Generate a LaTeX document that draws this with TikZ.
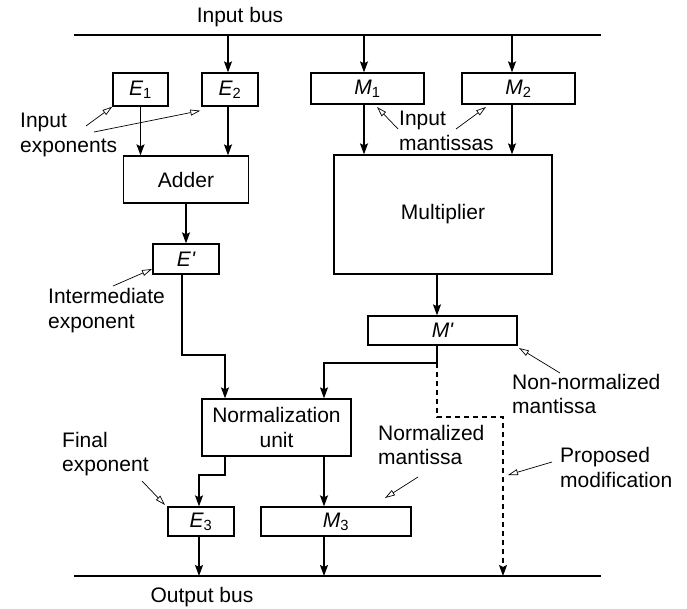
\documentclass[tikz,border=0pt]{standalone}
\usepackage{fontspec}
\setmainfont{Liberation Sans}
\usetikzlibrary{arrows.meta,calc}
\begin{document}
\begin{tikzpicture}[x=1pt,y=-1pt,
  every node/.style={font=\fontsize{21}{24.5}\selectfont},
  box/.style={draw,line width=1.3pt,inner sep=0pt},
  lbl/.style={align=left,inner sep=0pt,anchor=west},
  bus/.style={line width=1.5pt},
  arr/.style={line width=1.3pt,-{Stealth[length=11pt,width=8pt,inset=2pt]}},
  ann/.style={line width=0.7pt,-{Triangle[open,length=10pt,width=6pt,line width=0.7pt]}},
  dsh/.style={dash pattern=on 5pt off 4pt}]
\useasboundingbox (0,0) rectangle (687,608);

% buses
\coordinate (ibL) at (74,35); \coordinate (ibR) at (601,35);
\coordinate (obL) at (74,576); \coordinate (obR) at (601,576);
\draw[bus] (ibL) -- (ibR);
\draw[bus] (obL) -- (obR);
\node (ibus) at (240,17) {Input bus};
\node (obus) at (202,597) {Output bus};

% boxes
\node[box,minimum width=55,minimum height=33] (E1) at (140.5,89.5) {\itshape E\textsubscript{\upshape 1}};
\node[box,minimum width=56,minimum height=33] (E2) at (230,89.5) {\itshape E\textsubscript{\upshape 2}};
\node[box,minimum width=113,minimum height=31] (M1) at (367.5,88.5) {\itshape M\textsubscript{\upshape 1}};
\node[box,minimum width=113,minimum height=31] (M2) at (518.5,88.5) {\itshape M\textsubscript{\upshape 2}};
\node[box,minimum width=125,minimum height=47] (Adder) at (186,179.5) {Adder};
\node[box,minimum width=218,minimum height=119] (Mult) at (443,214.5) {Multiplier};
\node[box,minimum width=66,minimum height=30] (Ep) at (186,259) {\itshape E\textquotesingle};
\node[box,minimum width=149,minimum height=29] (Mp) at (442.5,330.5) {\itshape M\textquotesingle};
\node[box,minimum width=149,minimum height=57,align=center] (Norm) at (276.5,427.5) {Normalization\\unit};
\node[box,minimum width=66,minimum height=29] (E3) at (201,521.5) {\itshape E\textsubscript{\upshape 3}};
\node[box,minimum width=150,minimum height=29] (M3) at (336,521.5) {\itshape M\textsubscript{\upshape 3}};

% taps and bends
\coordinate (t2) at (228,35); \coordinate (t3) at (364,35); \coordinate (t4) at (512,35);
\coordinate (mt) at (437,300);
\coordinate (k1) at (182,355); \coordinate (k2) at (225,355);
\coordinate (j1) at (437,363); \coordinate (j2) at (324,363);
\coordinate (d1) at (437,417); \coordinate (d2) at (503,417);
\coordinate (n1) at (225,475); \coordinate (n2) at (199,475);

\draw[arr] (t2) -- (t2 |- E2.north);
\draw[arr] (t3) -- (t3 |- M1.north);
\draw[arr] (t4) -- (t4 |- M2.north);
\draw[arr] (E1.south) -- (E1.south |- Adder.north);
\draw[arr] (t2 |- E2.south) -- (t2 |- Adder.north);
\draw[arr] (t3 |- M1.south) -- (t3 |- Mult.north);
\draw[arr] (t4 |- M2.south) -- (t4 |- Mult.north);
\draw[arr] (Adder.south) -- (Ep.north);
\draw[arr] (mt |- Mult.south) -- (mt |- Mp.north);
\draw[arr] (k1 |- Ep.south) -- (k1) -- (k2) -- (k2 |- Norm.north);
\draw[arr] (j1 |- Mp.south) -- (j1) -- (j2) -- (j2 |- Norm.north);
\draw[arr,dsh] (j1) -- (d1) -- (d2) -- (d2 |- obL);
\draw[arr] (n1 |- Norm.south) -- (n1) -- (n2) -- (n2 |- E3.north);
\draw[arr] (j2 |- Norm.south) -- (j2 |- M3.north);
\draw[arr] (n2 |- E3.south) -- (n2 |- obL);
\draw[arr] (j2 |- M3.south) -- (j2 |- obL);

% labels
\node[lbl] (lie) at (20,135) {Input\\exponents};
\node[lbl] (lim) at (399,131) {Input\\mantissas};
\node[lbl] (lix) at (48,310.5) {Intermediate\\exponent};
\node[lbl] (lnn) at (512,394) {Non-normalized\\mantissa};
\node[lbl] (lfe) at (62,454) {Final\\exponent};
\node[lbl] (lnm) at (378,445) {Normalized\\mantissa};
\node[lbl] (lpm) at (560,467.5) {Proposed\\modification};

% annotation arrows
\coordinate (a1) at (86,126); \coordinate (a2) at (94,132);
\coordinate (a3) at (398,129); \coordinate (a3e) at (377,107);
\coordinate (a4) at (456,129); \coordinate (a4e) at (486,107);
\coordinate (a5) at (113,286); \coordinate (a5e) at (152,269);
\coordinate (a6) at (560,373); \coordinate (a6e) at (519,348);
\coordinate (a7) at (142,481); \coordinate (a7e) at (165,505);
\coordinate (a8) at (418,477); \coordinate (a8e) at (385,498);
\coordinate (a9) at (552,462); \coordinate (a9e) at (508,475);
\draw[ann] (a1) -- (E1.south west);
\draw[ann] (a2) -- ($(E2.south west)+(-1,4)$);
\draw[ann] (a3) -- (a3e);
\draw[ann] (a4) -- (a4e);
\draw[ann] (a5) -- (a5e);
\draw[ann] (a6) -- (a6e);
\draw[ann] (a7) -- (a7e);
\draw[ann] (a8) -- (a8e);
\draw[ann] (a9) -- (a9e);
\end{tikzpicture}
\end{document}
